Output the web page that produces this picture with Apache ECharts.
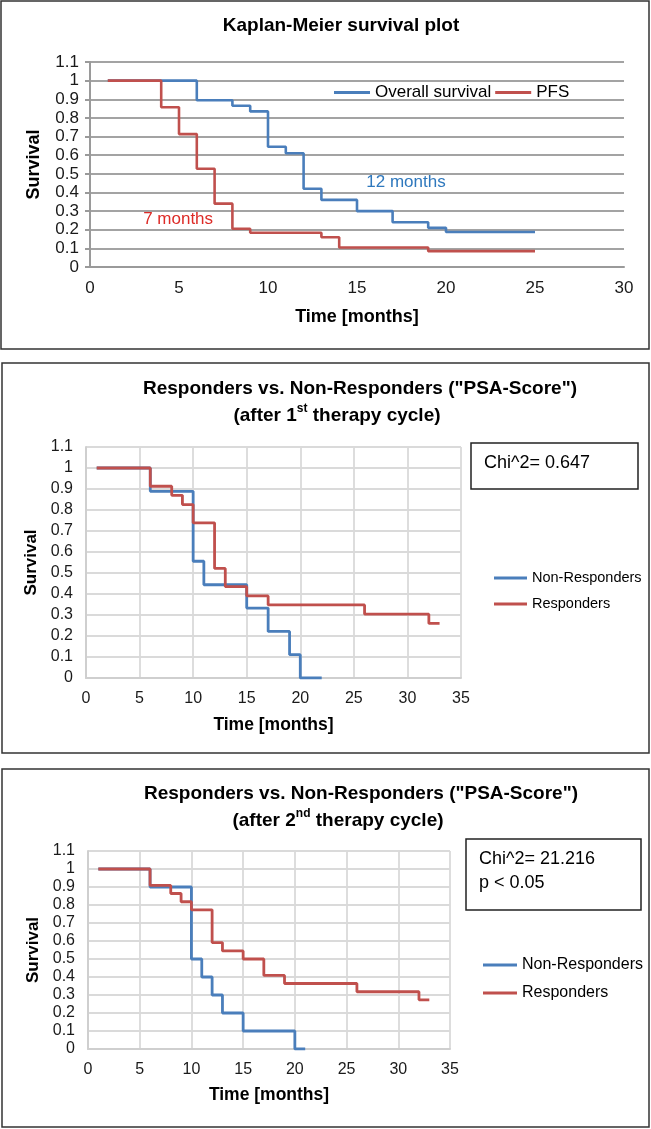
<!DOCTYPE html>
<html>
<head>
<meta charset="utf-8">
<script src="https://cdn.jsdelivr.net/npm/echarts@6/dist/echarts.min.js"></script>
<style>
html,body{margin:0;padding:0;background:#fff;}
#chart{width:651px;height:1129px;}
</style>
</head>
<body>
<div id="chart"></div>
<script>
// ---------- DATA ----------
// Panel 1: Kaplan-Meier survival plot
const osTime  = [1, 6, 8, 9, 10, 11, 12, 13, 15, 17, 19, 20, 25];
const osSurv  = [1, 0.895, 0.865, 0.835, 0.645, 0.61, 0.42, 0.36, 0.30, 0.24, 0.21, 0.188, 0.188];
const pfsTime = [1, 4, 5, 6, 7, 8, 9, 13, 14, 19, 25];
const pfsSurv = [1, 0.857, 0.713, 0.527, 0.34, 0.205, 0.184, 0.16, 0.105, 0.085, 0.085];

// Panel 2: after 1st therapy cycle
const nr1Time = [1, 6, 10, 11, 15, 17, 19, 20, 22];
const nr1Surv = [1, 0.889, 0.556, 0.444, 0.333, 0.222, 0.111, 0, 0];
const r1Time  = [1, 6, 8, 9, 10, 12, 13, 15, 17, 26, 32, 33];
const r1Surv  = [1, 0.913, 0.87, 0.826, 0.739, 0.522, 0.435, 0.391, 0.348, 0.304, 0.26, 0.26];

// Panel 3: after 2nd therapy cycle
const nr2Time = [1, 6, 10, 11, 12, 13, 15, 20, 21];
const nr2Surv = [1, 0.9, 0.5, 0.4, 0.3, 0.2, 0.1, 0, 0];
const r2Time  = [1, 6, 8, 9, 10, 12, 13, 15, 17, 19, 26, 32, 33];
const r2Surv  = [1, 0.909, 0.864, 0.818, 0.773, 0.591, 0.545, 0.5, 0.409, 0.364, 0.318, 0.273, 0.273];

// Annotations (panel 1) in data coordinates
const osMedianLabel  = {text: '12 months', x: 17.75, y: 0.456};
const pfsMedianLabel = {text: '7 months',  x: 4.95,  y: 0.257};

const titles = ['Kaplan-Meier survival plot',
                'Responders vs. Non-Responders ("PSA-Score")'];
const chiTexts = [['Chi^2= 0.647'], ['Chi^2= 21.216', 'p < 0.05']];

// ---------- STYLE ----------
const FONT = '"Liberation Sans", Arial, sans-serif';
const BLUE = '#4a7ebb';
const RED = '#c0504d';

function zip(a, b) { return a.map((t, i) => [t, b[i]]); }
const yFmt = v => String(Math.round(v * 10) / 10);

function xAxisCfg(idx, max, o) {
  return {
    type: 'value', gridIndex: idx, min: 0, max: max, interval: 5,
    name: 'Time [months]', nameLocation: 'middle', nameGap: o.nameGap,
    nameTextStyle: {fontFamily: FONT, fontWeight: 'bold', fontSize: o.nameSize, color: '#000'},
    axisLine: {show: true, lineStyle: {color: o.axisColor, width: o.axisWidth}},
    axisTick: {show: false},
    axisLabel: {fontFamily: FONT, fontSize: o.labelSize, color: '#1a1a1a', margin: o.labelMargin},
    splitLine: {show: o.vGrid, lineStyle: {color: o.gridColor, width: o.gridWidth}}
  };
}
function yAxisCfg(idx, o) {
  return {
    type: 'value', gridIndex: idx, min: 0, max: 1.1, interval: 0.1,
    name: 'Survival', nameLocation: 'middle', nameGap: o.nameGap, nameRotate: 90,
    nameTextStyle: {fontFamily: FONT, fontWeight: 'bold', fontSize: o.nameSize, color: '#000'},
    axisLine: {show: true, lineStyle: {color: o.axisColor, width: o.axisWidth}},
    axisTick: {show: o.ticks, length: 5, lineStyle: {color: o.axisColor, width: o.axisWidth}},
    axisLabel: {fontFamily: FONT, fontSize: o.labelSize, color: '#1a1a1a', margin: o.labelMargin, formatter: yFmt},
    splitLine: {show: true, lineStyle: {color: o.gridColor, width: o.gridWidth}}
  };
}
function stepSeries(name, idx, t, s, color, width, extra) {
  return Object.assign({
    name: name, type: 'line', xAxisIndex: idx, yAxisIndex: idx, step: 'end',
    data: zip(t, s), showSymbol: false, symbol: 'none',
    lineStyle: {color: color, width: width}, itemStyle: {color: color},
    emphasis: {disabled: true}
  }, extra || {});
}
function annot(a, color) {
  return {
    symbol: 'circle', symbolSize: 0, silent: true,
    itemStyle: {color: 'transparent'},
    label: {show: true, position: 'inside', formatter: a.text, color: color, fontFamily: FONT, fontSize: 17},
    data: [{coord: [a.x, a.y]}]
  };
}

const p1 = {nameGap: 42, nameSize: 18, axisColor: '#9a9a9a', axisWidth: 2, gridColor: '#a3a3a3', gridWidth: 2, labelSize: 17, ticks: true, vGrid: false};
const p2 = {nameSize: 17.5, axisColor: '#cfcfcf', axisWidth: 2, gridColor: '#dadada', gridWidth: 1.8, labelSize: 16, ticks: false, vGrid: true};

const chart = echarts.init(document.getElementById('chart'), null, {renderer: 'canvas'});

const option = {
  animation: false,
  backgroundColor: '#fff',
  grid: [
    {left: 90, top: 62, width: 534, height: 205},
    {left: 86, top: 447, width: 375, height: 231},
    {left: 88, top: 851, width: 362, height: 198}
  ],
  xAxis: [
    xAxisCfg(0, 30, Object.assign({}, p1, {nameGap: 41, labelMargin: 13})),
    xAxisCfg(1, 35, Object.assign({}, p2, {nameGap: 38, labelMargin: 13})),
    xAxisCfg(2, 35, Object.assign({}, p2, {nameGap: 37, labelMargin: 13}))
  ],
  yAxis: [
    yAxisCfg(0, Object.assign({}, p1, {nameGap: 47, labelMargin: 11})),
    yAxisCfg(1, Object.assign({}, p2, {nameGap: 42, nameSize: 17, labelMargin: 13})),
    yAxisCfg(2, Object.assign({}, p2, {nameGap: 42, nameSize: 17, labelMargin: 13}))
  ],
  legend: [
    {left: 334, top: 84, padding: 0, orient: 'horizontal', icon: 'rect', itemWidth: 36, itemHeight: 3, itemGap: 4,
     selectedMode: false, data: ['Overall survival', 'PFS'],
     textStyle: {fontFamily: FONT, fontSize: 17, color: '#000'}},
    {left: 494, top: 570, padding: 0, orient: 'vertical', icon: 'rect', itemWidth: 33, itemHeight: 3, itemGap: 10,
     selectedMode: false, data: ['Non-Responders', 'Responders'],
     textStyle: {fontFamily: FONT, fontSize: 14.5, lineHeight: 16, color: '#000'}},
    {left: 483, top: 956, padding: 0, orient: 'vertical', icon: 'rect', itemWidth: 34, itemHeight: 3, itemGap: 10,
     selectedMode: false, data: ['Non-Responders', 'Responders'],
     textStyle: {fontFamily: FONT, fontSize: 16, lineHeight: 18, color: '#000'}}
  ],
  series: [
    stepSeries('Overall survival', 0, osTime, osSurv, BLUE, 2.6, {markPoint: annot(osMedianLabel, '#2f78bd')}),
    stepSeries('PFS', 0, pfsTime, pfsSurv, RED, 2.6, {markPoint: annot(pfsMedianLabel, '#dd2b27')}),
    stepSeries('Non-Responders', 1, nr1Time, nr1Surv, BLUE, 2.8),
    stepSeries('Responders', 1, r1Time, r1Surv, RED, 2.8),
    stepSeries('Non-Responders', 2, nr2Time, nr2Surv, BLUE, 2.8),
    stepSeries('Responders', 2, r2Time, r2Surv, RED, 2.8)
  ],
  graphic: [
    // panel frames
    {type: 'rect', silent: true, shape: {x: 1, y: 1, width: 648, height: 348}, style: {fill: 'none', stroke: '#333', lineWidth: 1.5}},
    {type: 'rect', silent: true, shape: {x: 2, y: 363, width: 647, height: 390}, style: {fill: 'none', stroke: '#333', lineWidth: 1.5}},
    {type: 'rect', silent: true, shape: {x: 2, y: 769, width: 647, height: 358}, style: {fill: 'none', stroke: '#333', lineWidth: 1.5}},
    // titles
    {type: 'text', silent: true, x: 341, y: 26, style: {text: titles[0], font: 'bold 19px ' + FONT, fill: '#000', align: 'center', verticalAlign: 'middle'}},
    {type: 'text', silent: true, x: 360, y: 389, style: {text: titles[1], font: 'bold 19px ' + FONT, fill: '#000', align: 'center', verticalAlign: 'middle'}},
    {type: 'text', silent: true, x: 337, y: 414, style: {
      text: '{b|(after 1}{s|st}{b| therapy cycle)}', align: 'center', verticalAlign: 'middle',
      rich: {b: {font: 'bold 19px ' + FONT, fill: '#000', lineHeight: 22, verticalAlign: 'bottom'},
             s: {font: 'bold 12px ' + FONT, fill: '#000', lineHeight: 22, verticalAlign: 'top'}}}},
    {type: 'text', silent: true, x: 361, y: 794, style: {text: titles[1], font: 'bold 19px ' + FONT, fill: '#000', align: 'center', verticalAlign: 'middle'}},
    {type: 'text', silent: true, x: 338, y: 819, style: {
      text: '{b|(after 2}{s|nd}{b| therapy cycle)}', align: 'center', verticalAlign: 'middle',
      rich: {b: {font: 'bold 19px ' + FONT, fill: '#000', lineHeight: 22, verticalAlign: 'bottom'},
             s: {font: 'bold 12px ' + FONT, fill: '#000', lineHeight: 22, verticalAlign: 'top'}}}},
    // Chi^2 boxes
    {type: 'rect', silent: true, shape: {x: 471, y: 443, width: 167, height: 46}, style: {fill: '#fff', stroke: '#222', lineWidth: 1.5}},
    {type: 'text', silent: true, x: 484, y: 463, style: {text: chiTexts[0][0], font: '18px ' + FONT, fill: '#000', align: 'left', verticalAlign: 'middle'}},
    {type: 'rect', silent: true, shape: {x: 466, y: 839, width: 175, height: 71}, style: {fill: '#fff', stroke: '#222', lineWidth: 1.5}},
    {type: 'text', silent: true, x: 479, y: 859, style: {text: chiTexts[1][0], font: '18px ' + FONT, fill: '#000', align: 'left', verticalAlign: 'middle'}},
    {type: 'text', silent: true, x: 479, y: 883, style: {text: chiTexts[1][1], font: '18px ' + FONT, fill: '#000', align: 'left', verticalAlign: 'middle'}}
  ]
};
chart.setOption(option);
</script>
</body>
</html>
